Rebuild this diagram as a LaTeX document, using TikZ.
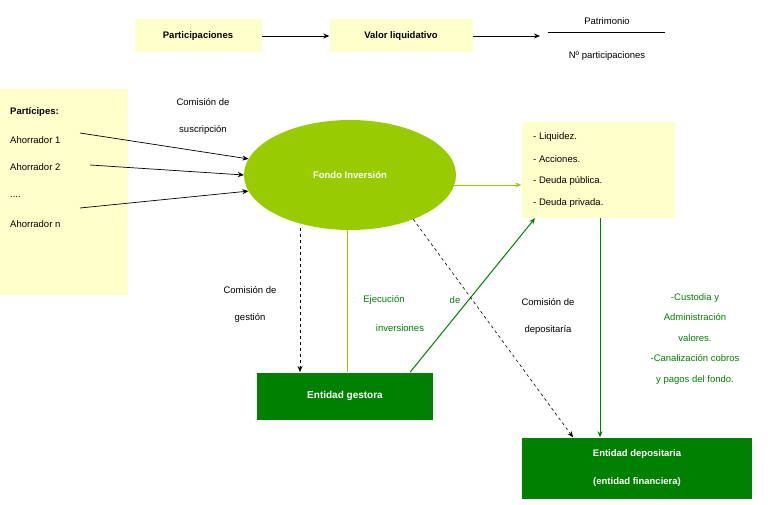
\documentclass[tikz,border=0pt]{standalone}
\usepackage{fontspec}
\setmainfont{Liberation Sans}
\usetikzlibrary{arrows.meta,shapes.geometric}
\definecolor{amarillo}{RGB}{255,255,204}
\definecolor{verdeclaro}{RGB}{153,204,0}
\definecolor{verdeoscuro}{RGB}{0,128,0}
\tikzset{
  caja/.style={fill=amarillo,inner sep=0pt},
  cajaverde/.style={fill=verdeoscuro,text=white,font=\bfseries,inner sep=0pt},
  txt/.style={inner sep=0pt,font=\fontsize{9.5}{11}\selectfont},
  verde/.style={text=verdeoscuro},
  flecha/.style={-{Stealth[length=6pt,width=5pt]},line width=0.7pt},
}
\begin{document}
\begin{tikzpicture}[x=1pt,y=-1pt,font=\fontsize{9.5}{11}\selectfont]
\useasboundingbox (0,0) rectangle (768,505);
% cabecera
\node[caja,minimum width=127,minimum height=33,font=\fontsize{9.5}{11}\selectfont\bfseries] (part) at (198,36) {Participaciones};
\node[caja,minimum width=143,minimum height=33,font=\fontsize{9.5}{11}\selectfont\bfseries] (valor) at (401,36) {Valor liquidativo};
\coordinate (frac) at (540,36);
\node[txt] (patr) at (607,21) {Patrimonio};
\node[txt] (npart) at (607,56) {Nº participaciones};
\draw (548,32) -- (665,32);
\draw[flecha] (part) -- (valor);
\draw[flecha] (valor) -- (frac);
% participes
\node[caja,minimum width=128,minimum height=205] (participes) at (64,192) {};
\node[txt,anchor=west,font=\fontsize{9.5}{11}\selectfont\bfseries] (tit) at (10,112) {Partícipes:};
\node[txt,anchor=west] (a1) at (10,140) {Ahorrador 1};
\node[txt,anchor=west] (a2) at (10,167) {Ahorrador 2};
\node[txt,anchor=west] (ap) at (10,197) {....};
\node[txt,anchor=west] (an) at (10,224) {Ahorrador n};
\node[txt] (cs1) at (203,102) {Comisión de};
\node[txt] (cs2) at (203,130) {suscripción};
% fondo
\node[ellipse,fill=verdeclaro,minimum width=212,minimum height=110,text=white,font=\fontsize{9.5}{11}\selectfont\bfseries] (fondo) at (350,175) {Fondo Inversión};
\draw[flecha] (80,133) -- (fondo.171);
\draw[flecha] (90,165) -- (fondo.180);
\draw[flecha] (80,208) -- (fondo.189);
% activos
\node[caja,minimum width=153,minimum height=96] (activos) at (598,170) {};
\node[txt,anchor=west] (l1) at (533,137) {- Liquidez.};
\node[txt,anchor=west] (l2) at (533,159) {- Acciones.};
\node[txt,anchor=west] (l3) at (533,181) {- Deuda pública.};
\node[txt,anchor=west] (l4) at (533,203) {- Deuda privada.};
\draw[flecha,verdeclaro] (fondo.east |- activos.west) ++(-5,15) coordinate (fe) -- (fe -| activos.west);
% gestora
\node[cajaverde,minimum width=176,minimum height=47] (gestora) at (345,396) {Entidad gestora};
\draw[flecha,dashed,line width=0.6pt] (fondo.south -| 300,0) ++(0,-2) -- (300,372);
\node[txt] (cg1) at (250,290) {Comisión de};
\node[txt] (cg2) at (250,318) {gestión};
\draw[verdeclaro,line width=0.9pt] (347,229) -- (gestora.north -| 347,0);
\node[txt,verde] (ej1) at (384,300) {Ejecución};
\node[txt,verde] (ej2) at (455,300) {de};
\node[txt,verde] (ej3) at (400,328) {inversiones};
\draw[flecha,verdeoscuro,line width=1pt] (gestora.north -| 410,0) -- (activos.south -| 535,0);
% depositaria
\node[cajaverde,minimum width=230,minimum height=61,align=center,font=\fontsize{9.5}{28}\selectfont\bfseries] (depos) at (637,468) {Entidad depositaria\\(entidad financiera)};
\draw[flecha,dashed,line width=0.6pt] (fondo.-35) -- (depos.north -| 573,0);
\node[txt] (cd1) at (548,302) {Comisión de};
\node[txt] (cd2) at (548,330) {depositaría};
\draw[flecha,verdeoscuro,line width=1pt] (activos.south -| 600,0) -- (depos.north -| 600,0);
\node[txt,verde,align=center,font=\fontsize{9.5}{20.5}\selectfont] (cust) at (695,339) {-Custodia y\\Administración\\valores.\\-Canalización cobros\\y pagos del fondo.};
\end{tikzpicture}
\end{document}
